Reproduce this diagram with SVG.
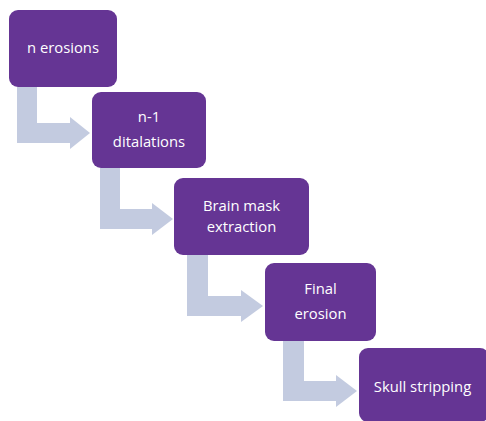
<svg xmlns="http://www.w3.org/2000/svg" width="486" height="421" viewBox="0 0 486 421">
<style>
.box{fill:#653594;}
.arr{fill:#c3cbe0;}
.t{fill:#ffffff;font-family:"Open Sans","Liberation Sans",sans-serif;font-size:14.8px;text-anchor:middle;}
</style>
<rect width="486" height="421" fill="#ffffff"/>
<g id="connectors">
<polygon class="arr" points="17,87 37,87 37,123 70,123 70,117 90,133 70,149 70,143 17,143"/>
<polygon class="arr" points="100,168 120,168 120,209 152,209 152,203 173,219 152,235 152,229 100,229"/>
<polygon class="arr" points="187,255 208,255 208,296 241,296 241,290 263,306 241,322 241,316 187,316"/>
<polygon class="arr" points="283,341 304,341 304,381 336,381 336,375 357,391 336,407 336,401 283,401"/>
</g>
<g id="n1"><rect class="box" x="9" y="10" width="108" height="77" rx="9"/><text class="t" x="63" y="53">n erosions</text></g>
<g id="n2"><rect class="box" x="92" y="92" width="114" height="76" rx="9"/><text class="t" x="149" y="122">n-1</text><text class="t" x="149" y="147">ditalations</text></g>
<g id="n3"><rect class="box" x="174" y="178" width="135" height="77" rx="9"/><text class="t" x="241.5" y="211">Brain mask</text><text class="t" x="241.5" y="232">extraction</text></g>
<g id="n4"><rect class="box" x="265" y="263" width="111" height="78" rx="9"/><text class="t" x="320.5" y="294">Final</text><text class="t" x="320.5" y="319">erosion</text></g>
<g id="n5"><rect class="box" x="359" y="348" width="130" height="74" rx="9"/><text class="t" x="422.5" y="392">Skull stripping</text></g>
</svg>
